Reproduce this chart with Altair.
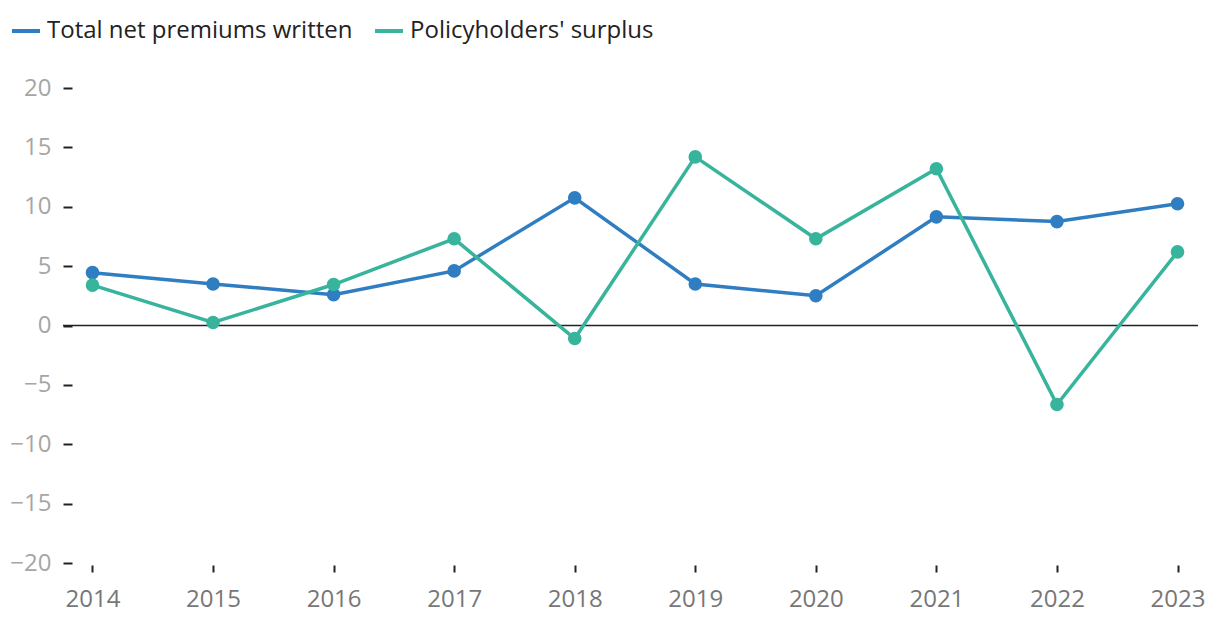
import altair as alt
import pandas as pd

years = [2014, 2015, 2016, 2017, 2018, 2019, 2020, 2021, 2022, 2023]
premiums = [4.45, 3.5, 2.6, 4.6, 10.75, 3.5, 2.5, 9.15, 8.75, 10.25]
surplus = [3.4, 0.25, 3.45, 7.3, -1.1, 14.2, 7.3, 13.2, -6.65, 6.2]
series_names = ["Total net premiums written", "Policyholders' surplus"]
colors = ["#2f7ec1", "#38b49c"]
y_ticks = [-20, -15, -10, -5, 0, 5, 10, 15, 20]

rows = []
for name, vals in zip(series_names, [premiums, surplus]):
    for yr, v in zip(years, vals):
        rows.append({"year": str(yr), "value": v, "series": name})
df = pd.DataFrame(rows)

W, H = 1126, 475
FONT = "Open Sans"
FS = 24

x_enc = alt.X(
    "year:O",
    scale=alt.Scale(type="point", padding=0.17),
    axis=alt.Axis(
        title=None, domain=False, grid=False, labelAngle=0,
        tickSize=7, offset=2, tickColor="#222", tickWidth=2,
        labelFontSize=FS, labelColor="#777777", labelFont=FONT, labelPadding=15,
    ),
)
y_enc = alt.Y(
    "value:Q",
    scale=alt.Scale(domain=[-20, 20], nice=False),
    axis=alt.Axis(
        title=None, domain=False, grid=False, values=y_ticks,
        tickSize=9, tickColor="#222", tickWidth=2,
        labelFontSize=FS, labelColor="#a6a6a6", labelFont=FONT, labelPadding=12,
    ),
)
color_enc = alt.Color(
    "series:N",
    scale=alt.Scale(domain=series_names, range=colors),
    legend=alt.Legend(
        title=None, orient="none", direction="horizontal",
        legendX=-62, legendY=-73,
        symbolType="stroke", symbolStrokeWidth=4, symbolSize=784,
        labelFontSize=FS, labelFont=FONT, labelColor="#222", labelLimit=0,
        columnPadding=14, symbolOffset=0, labelOffset=5,
    ),
    sort=series_names,
)

base = alt.Chart(df)
lines = base.mark_line(strokeWidth=3.5).encode(x=x_enc, y=y_enc, color=color_enc)
points = base.mark_circle(size=185, opacity=1).encode(x=x_enc, y=y_enc, color=color_enc)

zero = alt.Chart(pd.DataFrame({"v": [0]})).mark_rule(color="#222", strokeWidth=1.5).encode(
    y=alt.Y("v:Q"), x=alt.value(-9), x2=alt.value(W)
)

chart = alt.layer(zero, lines, points).properties(
    width=W, height=H,
    autosize=alt.AutoSizeParams(type="none"),
    padding={"left": 64, "top": 80, "right": 14, "bottom": 59},
).configure(font=FONT).configure_view(strokeWidth=0, stroke=None)

chart.save("out.html", embed_options={"renderer": "svg", "actions": False})
